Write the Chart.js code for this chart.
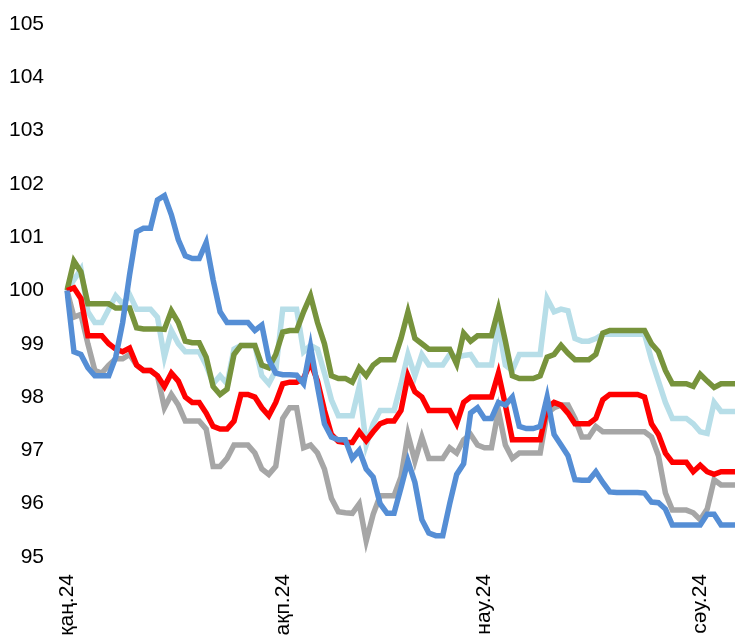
<!DOCTYPE html>
<html lang="kk">
<head>
    <meta charset="UTF-8">
    <script src="https://cdn.jsdelivr.net/npm/chart.js"></script>
    <title>Индекс</title>
    <style>
        body { margin: 0; background: #fff; }
        .wrap { width: 738px; height: 642px; }
    </style>
</head>
<body>
<div class="wrap"><canvas id="chart"></canvas></div>
<script>
    // tick labels at month starts (day index from 1 Jan 2024)
    const monthLabels = ['қаң.24', 'ақп.24', 'нау.24', 'сәу.24'];
    const monthStarts = [0, 31, 60, 91];
    const yTicks = [95, 96, 97, 98, 99, 100, 101, 102, 103, 104, 105];

    const blue = [100.0, 98.85, 98.8, 98.55, 98.4, 98.4, 98.4, 98.75, 99.4, 100.3,
        101.1, 101.17, 101.17, 101.7, 101.78, 101.42, 100.95, 100.65, 100.6, 100.6,
        100.9, 100.2, 99.6, 99.4, 99.4, 99.4, 99.4, 99.25, 99.35, 98.7,
        98.45, 98.42, 98.42, 98.41, 98.25, 98.95, 98.2, 97.5, 97.25, 97.2,
        97.2, 96.85, 97.0, 96.65, 96.5, 96.0, 95.82, 95.82, 96.3, 96.8,
        96.4, 95.7, 95.45, 95.4, 95.4, 96.0, 96.55, 96.75, 97.7, 97.8,
        97.6, 97.6, 97.9, 97.85, 98.0, 97.45, 97.41, 97.41, 97.45, 98.0,
        97.3, 97.1, 96.9, 96.45, 96.44, 96.44, 96.6, 96.4, 96.22, 96.21,
        96.21, 96.21, 96.21, 96.2, 96.03, 96.02, 95.9, 95.6, 95.6, 95.6,
        95.6, 95.6, 95.8, 95.8, 95.6, 95.6, 95.6];
    const red = [100.0, 100.05, 99.85, 99.15, 99.15, 99.15, 99.0, 98.9, 98.85, 98.92,
        98.6, 98.5, 98.5, 98.4, 98.2, 98.45, 98.3, 98.0, 97.9, 97.9,
        97.7, 97.45, 97.4, 97.4, 97.55, 98.05, 98.05, 98.0, 97.8, 97.65,
        97.9, 98.25, 98.28, 98.28, 98.35, 98.65, 98.3, 97.75, 97.3, 97.17,
        97.15, 97.15, 97.35, 97.18, 97.35, 97.5, 97.55, 97.55, 97.75, 98.4,
        98.1, 98.0, 97.75, 97.75, 97.75, 97.75, 97.5, 97.9, 98.0, 98.0,
        98.0, 98.0, 98.45, 97.85, 97.2, 97.2, 97.2, 97.2, 97.2, 97.8,
        97.9, 97.85, 97.7, 97.5, 97.5, 97.5, 97.6, 97.95, 98.05, 98.05,
        98.05, 98.05, 98.05, 98.0, 97.5, 97.3, 96.95, 96.78, 96.78, 96.78,
        96.6, 96.72, 96.6, 96.55, 96.6, 96.6, 96.6];
    const grey = [100.0, 99.5, 99.55, 99.0, 98.5, 98.45, 98.6, 98.72, 98.72, 98.8,
        98.6, 98.5, 98.5, 98.4, 97.8, 98.05, 97.85, 97.55, 97.55, 97.55,
        97.4, 96.7, 96.7, 96.85, 97.1, 97.1, 97.1, 96.95, 96.65, 96.55,
        96.7, 97.6, 97.8, 97.8, 97.05, 97.1, 96.95, 96.65, 96.1, 95.85,
        95.83, 95.82, 96.0, 95.3, 95.8, 96.15, 96.15, 96.15, 96.5, 97.3,
        96.8, 97.25, 96.85, 96.85, 96.85, 97.05, 96.95, 97.2, 97.3, 97.1,
        97.05, 97.05, 97.75, 97.1, 96.85, 96.95, 96.95, 96.95, 96.95, 97.7,
        97.8, 97.85, 97.85, 97.6, 97.25, 97.25, 97.45, 97.35, 97.35, 97.35,
        97.35, 97.35, 97.35, 97.35, 97.25, 96.9, 96.2, 95.88, 95.88, 95.88,
        95.83, 95.7, 95.9, 96.45, 96.35, 96.35, 96.35];
    const lightBlue = [100.0, 100.2, 100.4, 99.6, 99.4, 99.4, 99.65, 99.9, 99.75, 99.92,
        99.65, 99.65, 99.65, 99.5, 98.75, 99.25, 99.0, 98.85, 98.85, 98.85,
        98.6, 98.25, 98.4, 98.25, 98.9, 98.97, 98.97, 98.97, 98.4, 98.25,
        98.5, 99.65, 99.65, 99.65, 98.85, 98.97, 98.9, 98.45, 97.95, 97.65,
        97.65, 97.65, 98.2, 97.1, 97.5, 97.75, 97.75, 97.75, 98.25, 98.8,
        98.4, 98.8, 98.6, 98.6, 98.6, 98.8, 98.75, 98.78, 98.8, 98.6,
        98.6, 98.6, 99.35, 98.6, 98.5, 98.8, 98.8, 98.8, 98.8, 99.85,
        99.6, 99.65, 99.62, 99.1, 99.05, 99.05, 99.1, 99.18, 99.18, 99.18,
        99.18, 99.18, 99.18, 99.18, 98.7, 98.3, 97.9, 97.6, 97.6, 97.6,
        97.5, 97.35, 97.32, 97.9, 97.73, 97.73, 97.73];
    const green = [100.0, 100.55, 100.35, 99.75, 99.75, 99.75, 99.75, 99.67, 99.67, 99.67,
        99.3, 99.28, 99.28, 99.28, 99.27, 99.62, 99.4, 99.05, 99.02, 99.02,
        98.75, 98.2, 98.05, 98.15, 98.8, 98.97, 98.97, 98.97, 98.6, 98.55,
        98.8, 99.22, 99.25, 99.25, 99.6, 99.9, 99.4, 99.0, 98.4, 98.35,
        98.35, 98.28, 98.55, 98.4, 98.6, 98.7, 98.7, 98.7, 99.1, 99.6,
        99.1, 99.0, 98.9, 98.9, 98.9, 98.9, 98.62, 99.2, 99.05, 99.15,
        99.15, 99.15, 99.65, 99.05, 98.4, 98.35, 98.35, 98.35, 98.4, 98.75,
        98.8, 98.97, 98.82, 98.7, 98.7, 98.7, 98.8, 99.2, 99.25, 99.25,
        99.25, 99.25, 99.25, 99.25, 99.0, 98.85, 98.5, 98.25, 98.25, 98.25,
        98.2, 98.43, 98.3, 98.18, 98.25, 98.25, 98.25];

    const days = [];
    for (let i = 0; i < blue.length; i++) {
        const d = new Date(2024, 0, 1 + i);
        days.push(d.toISOString().slice(0, 10));
    }

    function line(data, color) {
        return {
            data: data,
            borderColor: color,
            backgroundColor: color,
            borderWidth: 5.5,
            pointRadius: 0,
            tension: 0,
            fill: false
        };
    }

    Chart.defaults.font.family = '"Liberation Sans", Arial, sans-serif';
    Chart.defaults.font.size = 21;
    Chart.defaults.color = '#000';

    new Chart(document.getElementById('chart'), {
        type: 'line',
        data: {
            labels: days,
            datasets: [
                line(blue, '#558ED5'),
                line(red, '#FF0000'),
                line(grey, '#A6A6A6'),
                line(green, '#77933C'),
                line(lightBlue, '#B7DEE8')
            ]
        },
        options: {
            animation: false,
            responsive: true,
            maintainAspectRatio: false,
            layout: { padding: { left: 9, right: 3, top: 24, bottom: 0 } },
            plugins: { legend: { display: false }, tooltip: { enabled: false } },
            scales: {
                x: {
                    grid: { display: false, drawTicks: false },
                    border: { display: false },
                    afterFit: function (scale) {
                        scale.paddingLeft = 0;
                        scale.paddingRight = 0;
                        scale.height = 85;
                    },
                    ticks: {
                        autoSkip: false,
                        minRotation: 90,
                        maxRotation: 90,
                        padding: 17,
                        callback: function (v, i) {
                            const k = monthStarts.indexOf(i);
                            return k >= 0 ? monthLabels[k] : '';
                        }
                    }
                },
                y: {
                    min: yTicks[0],
                    max: yTicks[yTicks.length - 1],
                    afterBuildTicks: function (axis) {
                        axis.ticks = yTicks.map(v => ({ value: v }));
                    },
                    afterFit: function (scale) {
                        scale.width = 58;
                        scale.paddingTop = 0;
                        scale.paddingBottom = 0;
                    },
                    grid: { display: false, drawTicks: false },
                    border: { display: false },
                    ticks: { padding: 23 }
                }
            }
        }
    });
</script>
</body>
</html>
